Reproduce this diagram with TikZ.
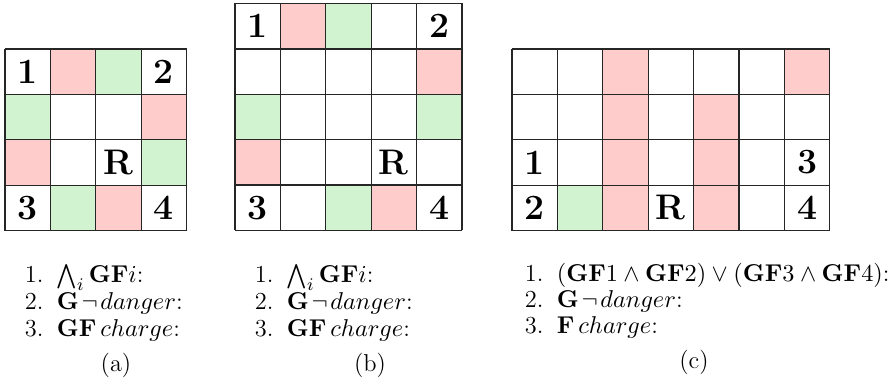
\documentclass[tikz,border=0pt]{standalone}
\usepackage{amsmath,amssymb}
\usepackage{xcolor}
\usepackage{tikz}
\definecolor{cellred}{RGB}{255,204,204}
\definecolor{cellgreen}{RGB}{210,243,208}

\begin{document}
\begin{tikzpicture}[x=0.45pt,y=-0.45pt,
  cell/.style={draw=black!85, line width=0.6pt},
  cellnum/.style={font=\fontsize{16}{18}\selectfont\bfseries},
  item/.style={anchor=base west, font=\fontsize{11}{13}\selectfont},
  caption/.style={anchor=base, font=\fontsize{11}{13}\selectfont}]
\useasboundingbox (0,0) rectangle (891,384);

% Grid (a): 4x4
\begin{scope}[shift={(5,49)}, x=20.43pt, y=-20.43pt]
\foreach \c/\r in {1/0, 3/1, 0/2, 2/3} \fill[cellred] (\c,\r) rectangle +(1,1);
\foreach \c/\r in {2/0, 0/1, 3/2, 1/3} \fill[cellgreen] (\c,\r) rectangle +(1,1);
\foreach \i in {0,...,4} {
  \draw[cell] (\i,0) -- (\i,4);
  \draw[cell] (0,\i) -- (4,\i);
}
\node[cellnum] (a1) at (0.5,0.5) {1};
\node[cellnum] (a2) at (3.5,0.5) {2};
\node[cellnum] (a3) at (0.5,3.5) {3};
\node[cellnum] (a4) at (3.5,3.5) {4};
\node[cellnum] (aR) at (2.5,2.5) {R};
\end{scope}

% Grid (b): 5x5
\begin{scope}[shift={(235,3.5)}, x=20.43pt, y=-20.43pt]
\foreach \c/\r in {1/0, 4/1, 0/3, 3/4} \fill[cellred] (\c,\r) rectangle +(1,1);
\foreach \c/\r in {2/0, 0/2, 4/2, 2/4} \fill[cellgreen] (\c,\r) rectangle +(1,1);
\foreach \i in {0,...,5} {
  \draw[cell] (\i,0) -- (\i,5);
  \draw[cell] (0,\i) -- (5,\i);
}
\node[cellnum] (b1) at (0.5,0.5) {1};
\node[cellnum] (b2) at (4.5,0.5) {2};
\node[cellnum] (b3) at (0.5,4.5) {3};
\node[cellnum] (b4) at (4.5,4.5) {4};
\node[cellnum] (bR) at (3.5,3.5) {R};
\end{scope}

% Grid (c): 7x4
\begin{scope}[shift={(512,49)}, x=20.43pt, y=-20.43pt]
\foreach \c/\r in {2/0, 6/0, 2/1, 4/1, 2/2, 4/2, 2/3, 4/3} \fill[cellred] (\c,\r) rectangle +(1,1);
\fill[cellgreen] (1,3) rectangle +(1,1);
\foreach \i in {0,...,7} \draw[cell] (\i,0) -- (\i,4);
\foreach \i in {0,...,4} \draw[cell] (0,\i) -- (7,\i);
\node[cellnum] (c1) at (0.5,2.5) {1};
\node[cellnum] (c2) at (0.5,3.5) {2};
\node[cellnum] (c3) at (6.5,2.5) {3};
\node[cellnum] (c4) at (6.5,3.5) {4};
\node[cellnum] (cR) at (3.5,3.5) {R};
\end{scope}

% Specifications
\node[item] (la1) at (17,283) {1.\hspace{6pt}$\bigwedge_i \mathbf{GF}i$:};
\node[item] (la2) at (17,310) {2.\hspace{6pt}$\mathbf{G}\mkern2mu\neg\mkern2mu danger$:};
\node[item] (la3) at (17,337) {3.\hspace{6pt}$\mathbf{GF}\,charge$:};
\node[caption] (capa) at (116,372) {(a)};

\node[item] (lb1) at (247,283) {1.\hspace{6pt}$\bigwedge_i \mathbf{GF}i$:};
\node[item] (lb2) at (247,310) {2.\hspace{6pt}$\mathbf{G}\mkern2mu\neg\mkern2mu danger$:};
\node[item] (lb3) at (247,337) {3.\hspace{6pt}$\mathbf{GF}\,charge$:};
\node[caption] (capb) at (370,372) {(b)};

\node[item] (lc1) at (517,282) {1.\hspace{6pt}$(\mathbf{GF}1 \wedge \mathbf{GF}2) \vee (\mathbf{GF}3 \wedge \mathbf{GF}4)$:};
\node[item] (lc2) at (517,308) {2.\hspace{6pt}$\mathbf{G}\mkern2mu\neg\mkern2mu danger$:};
\node[item] (lc3) at (517,334) {3.\hspace{6pt}$\mathbf{F}\,charge$:};
\node[caption] (capc) at (694,369) {(c)};
\end{tikzpicture}
\end{document}
